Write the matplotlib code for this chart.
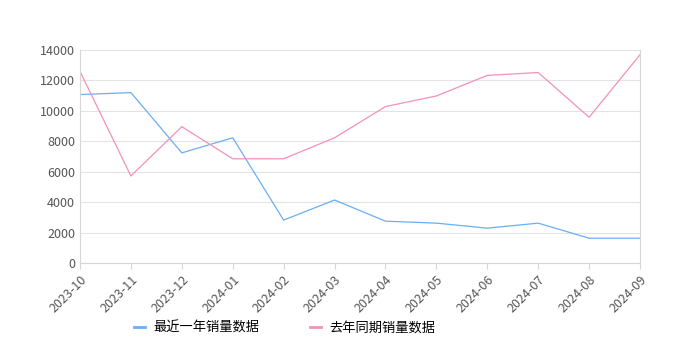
import matplotlib
matplotlib.use("Agg")
import matplotlib.pyplot as plt

plt.rcParams['font.family'] = ['Noto Sans CJK SC', 'DejaVu Sans']

months = ["2023-10", "2023-11", "2023-12", "2024-01", "2024-02", "2024-03",
          "2024-04", "2024-05", "2024-06", "2024-07", "2024-08", "2024-09"]
recent = [11070, 11200, 7240, 8230, 2820, 4140, 2750, 2620, 2290, 2620, 1630, 1630]
last_year = [12590, 5720, 8960, 6850, 6850, 8230, 10280, 10980, 12330, 12520, 9580, 13690]

fig = plt.figure(figsize=(6.8, 3.5), dpi=100)
ax = fig.add_axes([80 / 680, 87 / 350, 560 / 680, 213 / 350])

x = list(range(len(months)))
ax.plot(x, recent, color="#6aaef5", lw=0.9, label="最近一年销量数据")
ax.plot(x, last_year, color="#f490bb", lw=0.9, label="去年同期销量数据")

ax.set_xlim(0, len(months) - 1)
ax.set_ylim(0, 14000)
ax.set_yticks(range(0, 14001, 2000))
ax.set_xticks(x)
ax.set_xticklabels(months, rotation=45, ha="right", rotation_mode="anchor")
ax.grid(axis="y", color="#e3e3e3", lw=0.8)
ax.set_axisbelow(True)
for s in ["left", "right", "bottom"]:
    ax.spines[s].set_color("#d6d6d6")
ax.spines["top"].set_visible(False)
ax.tick_params(axis="both", colors="#d6d6d6", labelcolor="#555555", labelsize=9, length=4)
ax.tick_params(axis="y", length=0)

leg = ax.legend(loc="center", bbox_to_anchor=(0.366, -0.305), ncol=2, frameon=False,
                fontsize=9.5, handlelength=0.8, columnspacing=3.8, handletextpad=0.7)
for h in leg.get_lines():
    h.set_linewidth(2)

fig.savefig("out.png", dpi=100)
